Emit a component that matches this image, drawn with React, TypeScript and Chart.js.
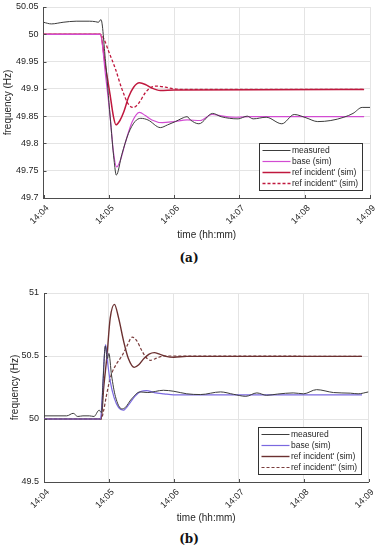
import React, { useEffect, useRef } from "react";
import { Chart, registerables } from "chart.js";

Chart.register(...registerables);

// ---------- axis ticks ----------
const xTickValues = [0, 1, 2, 3, 4, 5]; // minutes after 14:04
const xTickLabels = ["14:04", "14:05", "14:06", "14:07", "14:08", "14:09"];
const yTickValuesA = [49.7, 49.75, 49.8, 49.85, 49.9, 49.95, 50, 50.05];
const yTickLabelsA = ["49.7", "49.75", "49.8", "49.85", "49.9", "49.95", "50", "50.05"];
const yTickValuesB = [49.5, 50, 50.5, 51];
const yTickLabelsB = ["49.5", "50", "50.5", "51"];

const seriesLabels = ["measured", "base (sim)", "ref incident' (sim)", "ref incident'' (sim)"];

// ---------- panel (a) ----------
const measuredA_t = [0, 0.12, 0.3, 0.5, 0.7, 0.8, 0.84, 0.88, 0.95, 1.02, 1.08, 1.115, 1.2, 1.3, 1.4, 1.49, 1.6, 1.79, 1.9, 2.02, 2.12, 2.2, 2.25, 2.38, 2.59, 2.72, 2.98, 3.12, 3.21, 3.41, 3.65, 3.84, 4.02, 4.2, 4.4, 4.6, 4.74, 4.88, 5.0];
const measuredA_v = [50.022, 50.019, 50.022, 50.024, 50.024, 50.023, 50.022, 50.027, 49.95, 49.85, 49.77, 49.742, 49.78, 49.818, 49.84, 49.846, 49.843, 49.829, 49.834, 49.84, 49.846, 49.849, 49.843, 49.836, 49.855, 49.849, 49.845, 49.85, 49.845, 49.848, 49.836, 49.853, 49.847, 49.84, 49.842, 49.848, 49.855, 49.866, 49.866];

const baseA_t = [0, 0.87, 0.95, 1.02, 1.07, 1.12, 1.18, 1.25, 1.36, 1.47, 1.56, 1.66, 1.82, 2.0, 2.2, 2.4, 2.58, 2.75, 2.95, 3.2, 4.91];
const baseA_v = [50, 50, 49.925, 49.85, 49.785, 49.757, 49.77, 49.8, 49.84, 49.857, 49.851, 49.843, 49.838, 49.84, 49.843, 49.842, 49.853, 49.85, 49.848, 49.849, 49.849];

const refA1_t = [0, 0.87, 0.95, 1.02, 1.07, 1.11, 1.17, 1.23, 1.3, 1.38, 1.47, 1.56, 1.65, 1.79, 2.0, 4.91];
const refA1_v = [50, 50, 49.94, 49.889, 49.85, 49.834, 49.842, 49.858, 49.884, 49.903, 49.911, 49.908, 49.902, 49.897, 49.898, 49.899];

const refA2_t = [0, 0.87, 0.93, 1.0, 1.1, 1.2, 1.3, 1.38, 1.46, 1.56, 1.65, 1.74, 1.87, 2.0, 2.2, 4.91];
const refA2_v = [50, 50, 49.99, 49.968, 49.937, 49.9, 49.872, 49.866, 49.874, 49.893, 49.903, 49.905, 49.903, 49.9, 49.899, 49.899];

// ---------- panel (b) ----------
const measuredB_t = [0, 0.35, 0.45, 0.52, 0.6, 0.7, 0.77, 0.85, 0.885, 0.91, 0.945, 0.975, 1.0, 1.04, 1.1, 1.2, 1.25, 1.35, 1.48, 1.6, 1.84, 2.0, 2.2, 2.41, 2.72, 2.92, 3.11, 3.28, 3.43, 3.6, 3.84, 4.0, 4.2, 4.46, 4.72, 4.84, 5.0];
const measuredB_v = [50.025, 50.025, 50.045, 50.02, 50.025, 50.025, 50.02, 50.07, 50.05, 50.3, 50.58, 50.48, 50.52, 50.35, 50.18, 50.08, 50.09, 50.16, 50.215, 50.21, 50.228, 50.22, 50.2, 50.194, 50.215, 50.196, 50.18, 50.207, 50.188, 50.198, 50.207, 50.2, 50.233, 50.21, 50.205, 50.2, 50.215];

const baseB_t = [0, 0.87, 0.9, 0.93, 0.95, 0.98, 1.02, 1.08, 1.15, 1.22, 1.3, 1.4, 1.5, 1.58, 1.7, 1.85, 2.0, 4.9];
const baseB_v = [50, 50, 50.2, 50.5, 50.59, 50.45, 50.3, 50.17, 50.09, 50.07, 50.11, 50.18, 50.22, 50.225, 50.21, 50.2, 50.192, 50.192];

const refB1_t = [0, 0.88, 0.92, 0.97, 1.02, 1.085, 1.15, 1.23, 1.3, 1.39, 1.46, 1.54, 1.62, 1.7, 1.78, 1.88, 2.0, 2.2, 4.9];
const refB1_v = [50, 50, 50.25, 50.5, 50.8, 50.91, 50.8, 50.61, 50.48, 50.41, 50.43, 50.48, 50.515, 50.527, 50.515, 50.497, 50.49, 50.497, 50.497];

const refB2_t = [0, 0.88, 0.92, 0.96, 1.0, 1.05, 1.12, 1.2, 1.27, 1.36, 1.43, 1.5, 1.57, 1.64, 1.74, 1.84, 2.0, 4.9];
const refB2_v = [50, 50, 50.07, 50.18, 50.28, 50.37, 50.44, 50.5, 50.57, 50.65, 50.62, 50.55, 50.49, 50.466, 50.484, 50.5, 50.5, 50.497];

// ---------- helpers ----------
const FONT = "'Liberation Sans', Arial, Helvetica, sans-serif";
const toPts = (t: number[], v: number[]) => t.map((x, i) => ({ x, y: v[i] }));

const axesPlugin = {
  id: "matlabAxes",
  afterDraw(chart: any) {
    const { ctx, chartArea } = chart;
    const xs = chart.scales.x;
    const ys = chart.scales.y;
    ctx.save();
    // inward tick marks
    ctx.strokeStyle = "#4d4d4d";
    ctx.lineWidth = 1;
    ctx.beginPath();
    xs.ticks.forEach((t: any) => {
      const px = Math.round(xs.getPixelForValue(t.value)) + 0.5;
      ctx.moveTo(px, chartArea.bottom);
      ctx.lineTo(px, chartArea.bottom - 3);
    });
    ys.ticks.forEach((t: any) => {
      const py = Math.round(ys.getPixelForValue(t.value)) + 0.5;
      ctx.moveTo(chartArea.left, py);
      ctx.lineTo(chartArea.left + 3, py);
    });
    ctx.stroke();

    // boxed legend (bottom right inside plot)
    const items = chart.data.datasets;
    ctx.font = `8.5px ${FONT}`;
    const rowH = 11;
    const padL = 3.5;
    const sample = 28;
    const gap = 1.5;
    const padR = 3.5;
    const textW = Math.max(...items.map((d: any) => ctx.measureText(d.label).width));
    const w = Math.round(padL + sample + gap + textW + padR);
    const h = Math.round(7 + (items.length - 1) * rowH + 6.5);
    const right = Math.round(chartArea.right - 8);
    const bottom = Math.round(chartArea.bottom - 8);
    const left = right - w;
    const top = bottom - h;
    ctx.fillStyle = "#ffffff";
    ctx.fillRect(left, top, w, h);
    ctx.strokeStyle = "#333333";
    ctx.lineWidth = 1;
    ctx.strokeRect(left + 0.5, top + 0.5, w, h);
    items.forEach((d: any, i: number) => {
      const y = top + 7 + i * rowH;
      ctx.save();
      ctx.strokeStyle = d.borderColor;
      ctx.lineWidth = d.borderWidth;
      ctx.setLineDash(d.borderDash || []);
      ctx.beginPath();
      ctx.moveTo(left + padL, y + 0.5);
      ctx.lineTo(left + padL + sample, y + 0.5);
      ctx.stroke();
      ctx.restore();
      ctx.fillStyle = "#262626";
      ctx.textAlign = "left";
      ctx.textBaseline = "middle";
      ctx.fillText(d.label, left + padL + sample + gap, y + 0.5);
    });
    ctx.restore();
  },
};

type PanelSpec = {
  series: { t: number[]; v: number[]; color: string; width: number; dash?: number[] }[];
  yMin: number;
  yMax: number;
  yTicks: number[];
  yLabels: string[];
  yAxisWidth: number;
  xAxisHeight: number;
  padTop: number;
  padRight: number;
  yTitlePad: number;
  xTitlePad: number;
};

function buildConfig(p: PanelSpec): any {
  return {
    type: "line",
    data: {
      datasets: p.series.map((s, i) => ({
        label: seriesLabels[i],
        data: toPts(s.t, s.v),
        borderColor: s.color,
        borderWidth: s.width,
        borderDash: s.dash || [],
        pointRadius: 0,
        fill: false,
        cubicInterpolationMode: "monotone",
      })),
    },
    options: {
      responsive: false,
      animation: false,
      events: [],
      layout: { padding: { top: p.padTop, right: p.padRight, left: 0, bottom: 0 } },
      plugins: { legend: { display: false }, tooltip: { enabled: false } },
      scales: {
        x: {
          type: "linear",
          min: 0,
          max: 5,
          afterBuildTicks: (ax: any) => {
            ax.ticks = xTickValues.map((value) => ({ value }));
          },
          afterFit: (ax: any) => {
            ax.height = p.xAxisHeight;
            ax.paddingLeft = 0;
            ax.paddingRight = 0;
          },
          ticks: {
            autoSkip: false,
            minRotation: 45,
            maxRotation: 45,
            padding: 5,
            labelOffset: 4,
            color: "#262626",
            font: { family: FONT, size: 9 },
            callback: (value: number) => xTickLabels[xTickValues.indexOf(value)],
          },
          grid: { color: "#e4e4e4", lineWidth: 1, drawTicks: false },
          border: { display: true, color: "#4d4d4d", width: 1 },
          title: {
            display: true,
            text: "time (hh:mm)",
            color: "#262626",
            font: { family: FONT, size: 10 },
            padding: { top: 0, bottom: p.xTitlePad },
          },
        },
        y: {
          type: "linear",
          min: p.yMin,
          max: p.yMax,
          afterBuildTicks: (ax: any) => {
            ax.ticks = p.yTicks.map((value) => ({ value }));
          },
          afterFit: (ax: any) => {
            ax.width = p.yAxisWidth;
            ax.paddingTop = 0;
            ax.paddingBottom = 0;
          },
          ticks: {
            padding: 5,
            color: "#262626",
            font: { family: FONT, size: 9 },
            callback: (value: number) => p.yLabels[p.yTicks.indexOf(value)],
          },
          grid: { color: "#e4e4e4", lineWidth: 1, drawTicks: false },
          border: { display: true, color: "#4d4d4d", width: 1 },
          title: {
            display: true,
            text: "frequency (Hz)",
            color: "#262626",
            font: { family: FONT, size: 10 },
            padding: { top: p.yTitlePad, bottom: 0 },
          },
        },
      },
    },
    plugins: [axesPlugin],
  };
}

const panelA: PanelSpec = {
  series: [
    { t: measuredA_t, v: measuredA_v, color: "#3c3c3c", width: 1 },
    { t: baseA_t, v: baseA_v, color: "#d24cd2", width: 1.2 },
    { t: refA1_t, v: refA1_v, color: "#c0183e", width: 1.5 },
    { t: refA2_t, v: refA2_v, color: "#c0183e", width: 1.3, dash: [3, 2] },
  ],
  yMin: 49.7,
  yMax: 50.05,
  yTicks: yTickValuesA,
  yLabels: yTickLabelsA,
  yAxisWidth: 43.5,
  xAxisHeight: 52,
  padTop: 7,
  padRight: 8,
  yTitlePad: 2,
  xTitlePad: 9,
};

const panelB: PanelSpec = {
  series: [
    { t: measuredB_t, v: measuredB_v, color: "#3c3c3c", width: 1 },
    { t: baseB_t, v: baseB_v, color: "#7a68e0", width: 1.2 },
    { t: refB1_t, v: refB1_v, color: "#6b3030", width: 1.4 },
    { t: refB2_t, v: refB2_v, color: "#7a3c3c", width: 1.2, dash: [3, 2] },
  ],
  yMin: 49.5,
  yMax: 51,
  yTicks: yTickValuesB,
  yLabels: yTickLabelsB,
  yAxisWidth: 44,
  xAxisHeight: 48,
  padTop: 23,
  padRight: 9.5,
  yTitlePad: 9,
  xTitlePad: 6,
};

function Panel({ spec, top, height }: { spec: PanelSpec; top: number; height: number }) {
  const ref = useRef<HTMLCanvasElement | null>(null);
  useEffect(() => {
    if (!ref.current) return;
    const chart = new Chart(ref.current, buildConfig(spec));
    return () => chart.destroy();
  }, [spec]);
  return (
    <canvas
      ref={ref}
      width={378}
      height={height}
      style={{ position: "absolute", left: 0, top, width: 378, height, display: "block" }}
    />
  );
}

const captionStyle = (top: number): React.CSSProperties => ({
  position: "absolute",
  left: 0,
  top,
  width: 378,
  textAlign: "center",
  fontFamily: "'DejaVu Serif', 'Liberation Serif', serif",
  fontWeight: "bold",
  fontSize: 12,
  lineHeight: "14px",
  color: "#111",
});

export default function App() {
  return (
    <div style={{ position: "absolute", left: 0, top: 0, width: 378, height: 550, background: "#fff", overflow: "hidden" }}>
      <Panel spec={panelA} top={0} height={250} />
      <div style={captionStyle(251)}>(a)</div>
      <Panel spec={panelB} top={270} height={260} />
      <div style={captionStyle(532)}>(b)</div>
    </div>
  );
}
